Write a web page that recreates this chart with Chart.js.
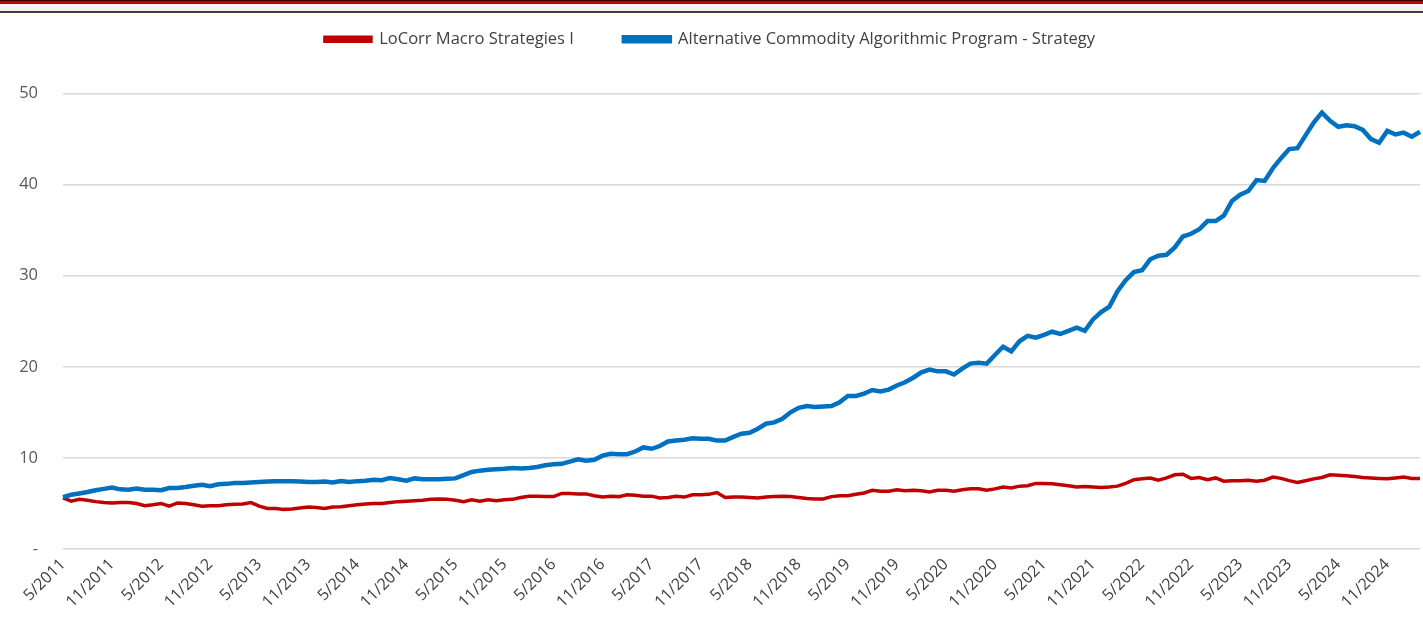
<!DOCTYPE html>
<html>
<head>
<meta charset="utf-8">
<script src="https://cdn.jsdelivr.net/npm/chart.js@4.4.0/dist/chart.umd.min.js"></script>
<style>
  html, body { margin: 0; padding: 0; background: #ffffff; }
  #wrap { position: relative; width: 1423px; height: 617px; overflow: hidden; }
  #c { position: absolute; left: 0; top: 0; }
  .bar { position: absolute; left: 0; width: 1423px; pointer-events: none; }
</style>
</head>
<body>
<div id="wrap">
  <canvas id="c" width="1423" height="617"></canvas>
  <div class="bar" style="top:0;height:1px;background:#3a0000;"></div>
  <div class="bar" style="top:1px;height:3px;background:#c00000;"></div>
  <div class="bar" style="top:4px;height:7px;background:#f2f2f2;"></div>
  <div class="bar" style="top:11px;height:2px;background:#404040;"></div>
</div>
<script>
const categories = [
"5/2011","6/2011","7/2011","8/2011","9/2011","10/2011","11/2011","12/2011",
"1/2012","2/2012","3/2012","4/2012","5/2012","6/2012","7/2012","8/2012","9/2012","10/2012","11/2012","12/2012",
"1/2013","2/2013","3/2013","4/2013","5/2013","6/2013","7/2013","8/2013","9/2013","10/2013","11/2013","12/2013",
"1/2014","2/2014","3/2014","4/2014","5/2014","6/2014","7/2014","8/2014","9/2014","10/2014","11/2014","12/2014",
"1/2015","2/2015","3/2015","4/2015","5/2015","6/2015","7/2015","8/2015","9/2015","10/2015","11/2015","12/2015",
"1/2016","2/2016","3/2016","4/2016","5/2016","6/2016","7/2016","8/2016","9/2016","10/2016","11/2016","12/2016",
"1/2017","2/2017","3/2017","4/2017","5/2017","6/2017","7/2017","8/2017","9/2017","10/2017","11/2017","12/2017",
"1/2018","2/2018","3/2018","4/2018","5/2018","6/2018","7/2018","8/2018","9/2018","10/2018","11/2018","12/2018",
"1/2019","2/2019","3/2019","4/2019","5/2019","6/2019","7/2019","8/2019","9/2019","10/2019","11/2019","12/2019",
"1/2020","2/2020","3/2020","4/2020","5/2020","6/2020","7/2020","8/2020","9/2020","10/2020","11/2020","12/2020",
"1/2021","2/2021","3/2021","4/2021","5/2021","6/2021","7/2021","8/2021","9/2021","10/2021","11/2021","12/2021",
"1/2022","2/2022","3/2022","4/2022","5/2022","6/2022","7/2022","8/2022","9/2022","10/2022","11/2022","12/2022",
"1/2023","2/2023","3/2023","4/2023","5/2023","6/2023","7/2023","8/2023","9/2023","10/2023","11/2023","12/2023",
"1/2024","2/2024","3/2024","4/2024","5/2024","6/2024","7/2024","8/2024","9/2024","10/2024","11/2024","12/2024",
"1/2025","2/2025","3/2025"
];

const tickLabels = [
"5/2011","11/2011","5/2012","11/2012","5/2013","11/2013","5/2014","11/2014",
"5/2015","11/2015","5/2016","11/2016","5/2017","11/2017","5/2018","11/2018",
"5/2019","11/2019","5/2020","11/2020","5/2021","11/2021","5/2022","11/2022",
"5/2023","11/2023","5/2024","11/2024"
];

const yTicks = [0, 10, 20, 30, 40, 50];

const locorr = [
5.6,5.25,5.45,5.35,5.2,5.1,5.05,5.1,5.1,5.0,
4.75,4.85,5.0,4.7,5.05,5.0,4.85,4.7,4.75,4.75,
4.85,4.9,4.95,5.1,4.7,4.45,4.45,4.35,4.4,4.5,
4.6,4.55,4.45,4.6,4.65,4.75,4.85,4.95,5.0,5.0,
5.1,5.2,5.25,5.3,5.35,5.45,5.5,5.45,5.35,5.2,
5.4,5.25,5.4,5.3,5.4,5.45,5.65,5.8,5.8,5.75,
5.75,6.1,6.1,6.05,6.05,5.85,5.7,5.8,5.75,5.95,
5.9,5.8,5.8,5.6,5.65,5.8,5.7,5.95,5.95,6.0,
6.2,5.65,5.7,5.7,5.65,5.6,5.7,5.75,5.8,5.75,
5.65,5.55,5.5,5.5,5.75,5.85,5.85,6.0,6.15,6.45,
6.35,6.35,6.5,6.4,6.45,6.4,6.25,6.45,6.45,6.35,
6.5,6.6,6.6,6.45,6.6,6.8,6.7,6.9,6.95,7.2,
7.2,7.15,7.05,6.95,6.8,6.85,6.8,6.75,6.8,6.9,
7.2,7.6,7.7,7.8,7.55,7.8,8.15,8.2,7.75,7.85,
7.6,7.8,7.45,7.5,7.5,7.55,7.45,7.55,7.9,7.75,
7.5,7.3,7.5,7.7,7.85,8.15,8.1,8.05,7.95,7.85,
7.8,7.75,7.7,7.8,7.9,7.75,7.75
];

const acap = [
5.7,5.95,6.1,6.25,6.45,6.6,6.75,6.55,6.5,6.65,
6.5,6.5,6.45,6.7,6.7,6.8,6.95,7.05,6.9,7.1,
7.15,7.25,7.25,7.3,7.35,7.4,7.45,7.45,7.45,7.4,
7.35,7.35,7.4,7.3,7.45,7.35,7.45,7.5,7.6,7.55,
7.8,7.65,7.5,7.75,7.65,7.65,7.65,7.7,7.75,8.1,
8.45,8.6,8.7,8.75,8.8,8.9,8.85,8.9,9.0,9.2,
9.3,9.35,9.6,9.85,9.7,9.8,10.25,10.45,10.4,10.4,
10.7,11.15,11.0,11.3,11.8,11.9,12.0,12.15,12.1,12.1,
11.9,11.9,12.3,12.65,12.75,13.2,13.75,13.9,14.3,15.0,
15.5,15.7,15.6,15.65,15.7,16.1,16.8,16.8,17.05,17.45,
17.3,17.5,17.95,18.3,18.8,19.4,19.7,19.5,19.5,19.15,
19.8,20.35,20.45,20.35,21.3,22.2,21.7,22.8,23.4,23.2,
23.5,23.85,23.6,23.95,24.3,23.95,25.2,26.0,26.6,28.3,
29.5,30.4,30.6,31.8,32.2,32.3,33.1,34.3,34.6,35.1,
36.0,36.0,36.6,38.2,38.9,39.3,40.5,40.4,41.8,42.9,
43.9,44.0,45.4,46.8,47.9,47.0,46.35,46.5,46.4,46.0,
45.0,44.6,45.9,45.5,45.7,45.25,45.8
];

const seriesNames = ["LoCorr Macro Strategies I", "Alternative Commodity Algorithmic Program - Strategy"];

const legendGap = {
  id: 'legendGap',
  afterInit(chart) {
    const lg = chart.legend;
    if (!lg) return;
    const origFit = lg.fit;
    lg.fit = function() { origFit.call(this); this.height += 36; };
  }
};

new Chart(document.getElementById('c'), {
  type: 'line',
  data: {
    labels: categories,
    datasets: [
      { label: seriesNames[0], data: locorr, borderColor: '#c00000', backgroundColor: '#c00000',
        borderWidth: 3.5, pointRadius: 0, tension: 0, order: 2 },
      { label: seriesNames[1], data: acap, borderColor: '#0070c0', backgroundColor: '#0070c0',
        borderWidth: 4.5, pointRadius: 0, tension: 0, order: 1 }
    ]
  },
  plugins: [legendGap],
  options: {
    responsive: false,
    animation: false,
    layout: { padding: { top: -19, right: 3, left: 0, bottom: 0 } },
    plugins: {
      legend: {
        display: true,
        position: 'top',
        labels: {
          boxWidth: 46, boxHeight: 4, padding: 50,
          color: '#404040',
          font: { family: 'Open Sans', size: 16.5 },
          sort: function(a, b) { return a.datasetIndex - b.datasetIndex; }
        }
      },
      tooltip: { enabled: false }
    },
    scales: {
      x: {
        type: 'category',
        offset: false,
        grid: { display: false, drawTicks: false },
        border: { display: false },
        ticks: {
          autoSkip: false, maxRotation: 45, minRotation: 45, padding: 6,
          color: '#404040', font: { family: 'Open Sans', size: 16 },
          callback: function(v, i) { const l = categories[i]; return tickLabels.includes(l) ? l : ''; }
        },
        afterFit: function(s) { s.height = 68; s.paddingLeft = 0; s.paddingRight = 0; }
      },
      y: {
        min: 0, max: 50,
        afterBuildTicks: function(s) { s.ticks = yTicks.map(v => ({ value: v })); },
        grid: { color: '#d9d9d9', lineWidth: 1.5, drawTicks: false },
        border: { display: false },
        ticks: {
          padding: 25, color: '#595959', font: { family: 'Open Sans', size: 16.5 },
          callback: function(v) { return v === 0 ? '-' : String(v); }
        },
        afterFit: function(s) { s.width = 63; s.paddingTop = 0; s.paddingBottom = 0; }
      }
    }
  }
});
</script>
</body>
</html>
